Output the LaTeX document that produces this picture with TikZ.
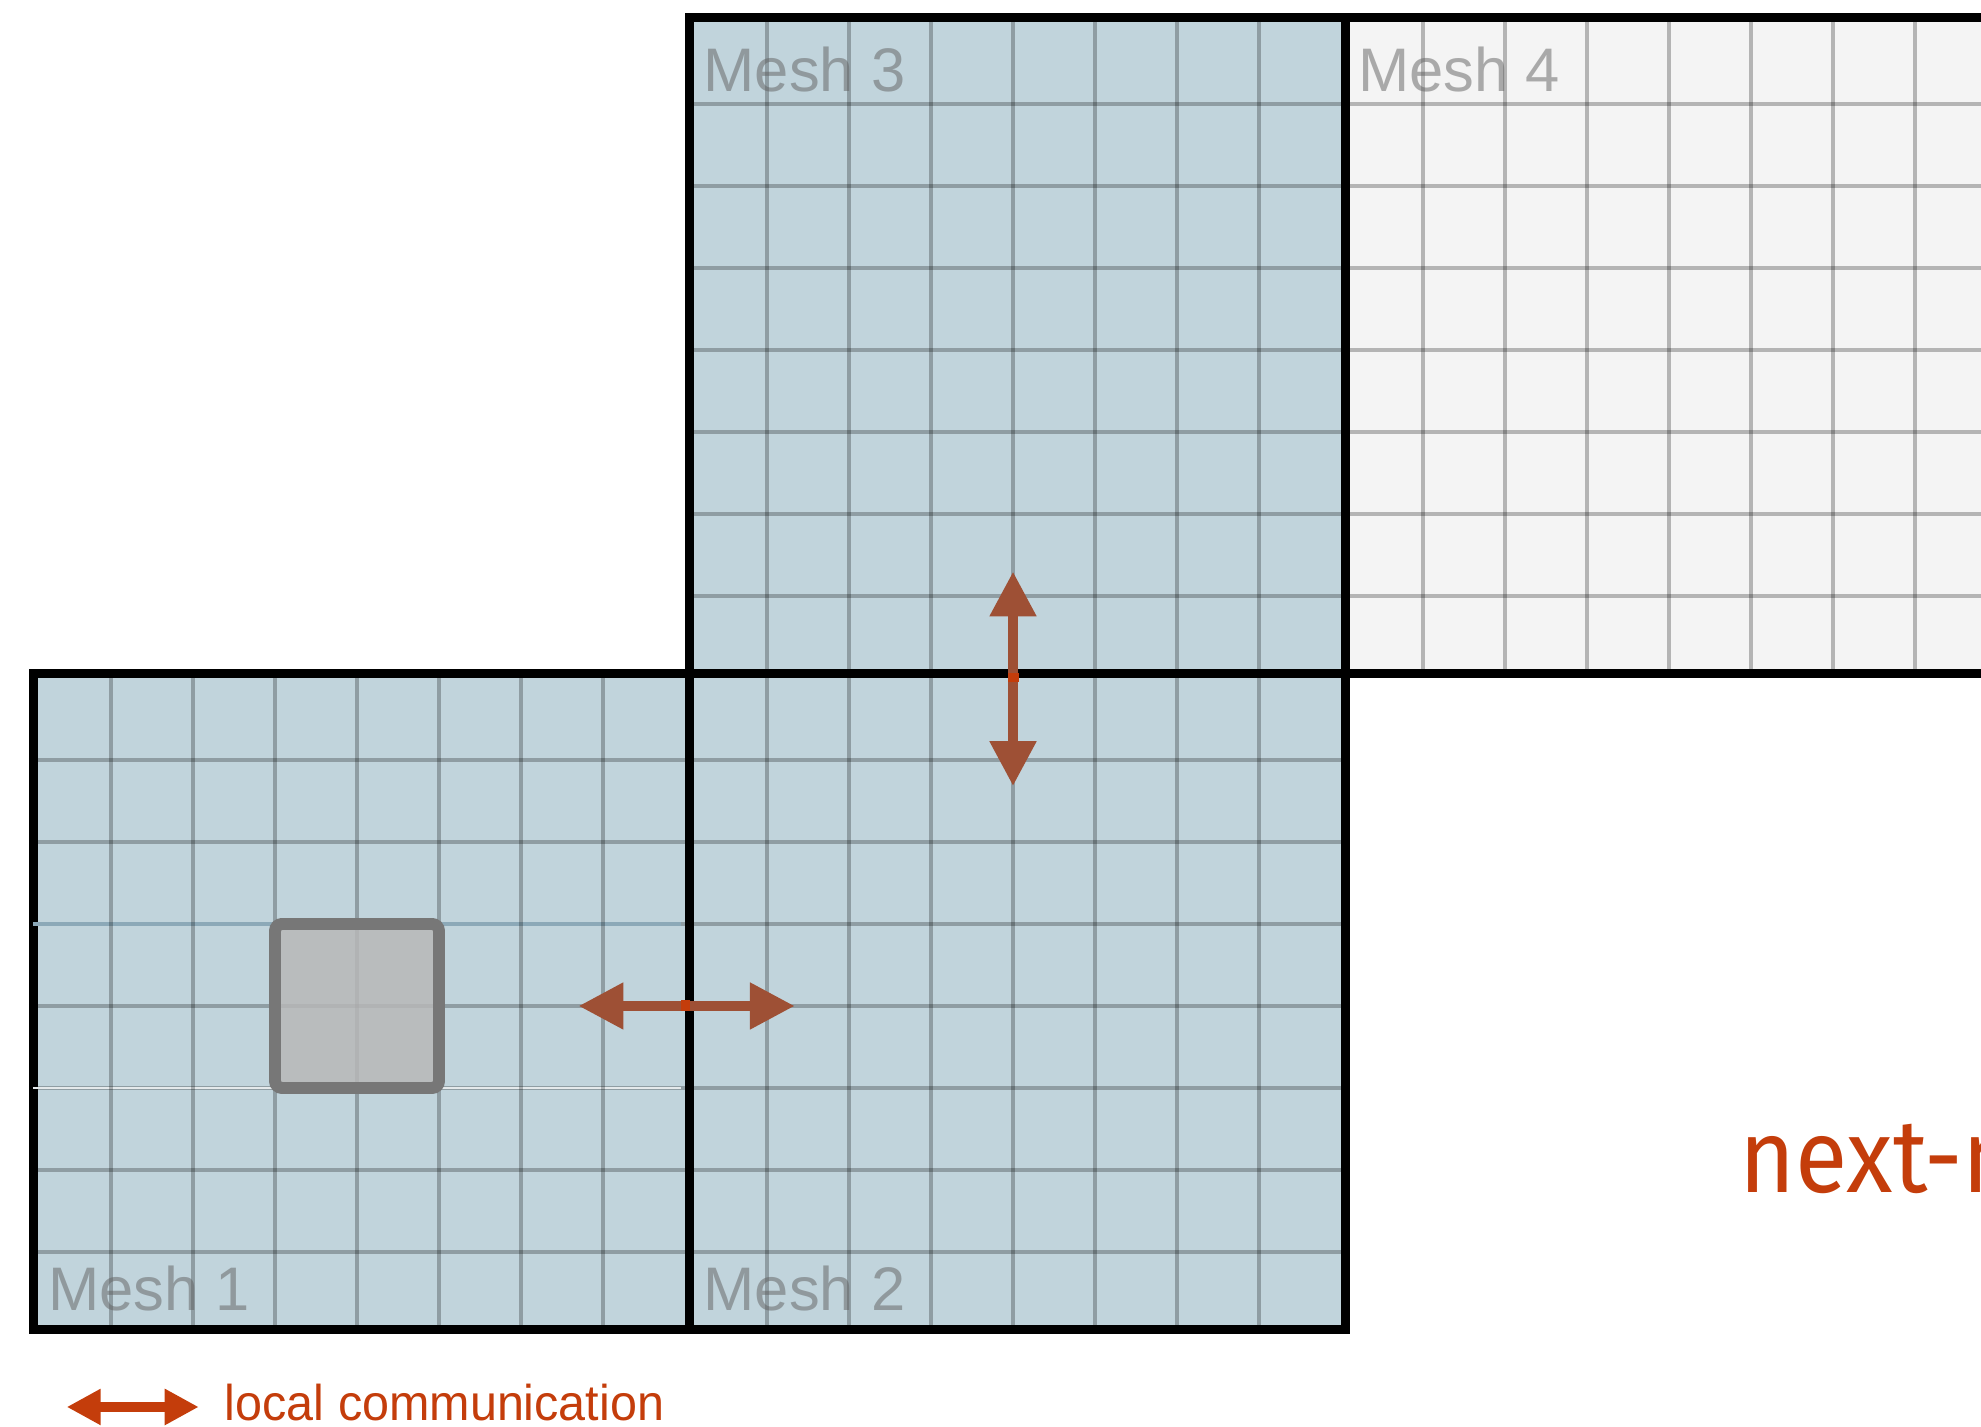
\documentclass[tikz,border=0pt]{standalone}
\usepackage{fontspec}
\setmainfont{Liberation Sans}
\newfontfamily\legendfont{Liberation Sans}[FakeStretch=0.965]
\newfontfamily\nextfont{Fira Sans}[FakeStretch=0.92]
\usepackage{tikz}
\usetikzlibrary{arrows.meta}
\definecolor{meshBlue}{HTML}{C1D4DC}
\definecolor{meshGrey}{HTML}{F4F4F4}
\definecolor{meshText}{HTML}{606060}
\definecolor{cellGrey}{HTML}{B8B8B8}
\definecolor{cellEdge}{HTML}{777777}
\definecolor{commBrown}{HTML}{9E5035}
\definecolor{commOrange}{HTML}{C43D0B}
\definecolor{rowBlue}{HTML}{8CA9B8}
\definecolor{rowPale}{HTML}{E4E9EB}

\begin{document}
\begin{tikzpicture}[x=0.82cm, y=0.82cm,
  mesh/.style={draw=black, line width=2.6pt, minimum size=6.56cm, inner sep=0pt, anchor=south west},
  gridln/.style={draw=black, draw opacity=0.26, line width=1.1pt},
  meshlabel/.style={anchor=base west, inner sep=0pt, text=meshText, text opacity=0.5,
                    font=\fontsize{17.5}{20}\selectfont},
  cellbox/.style={minimum size=1.64cm, inner sep=0pt, fill=cellGrey, fill opacity=0.85,
                  draw=cellEdge, draw opacity=1, line width=3.4pt, rounded corners=2pt},
  comm/.style={{Triangle[length=0.45cm, width=0.44cm]}-{Triangle[length=0.45cm, width=0.44cm]},
               line width=3.1pt, color=commBrown},
  legendarr/.style={{Triangle[length=0.34cm, width=0.34cm]}-{Triangle[length=0.34cm, width=0.34cm]},
                    line width=2.6pt, color=commOrange}
]
\useasboundingbox (-0.29cm,-0.93cm) rectangle (19.52cm,13.34cm);

\foreach \n/\px/\py/\col in {1/0/0/meshBlue, 2/8/0/meshBlue, 3/8/8/meshBlue, 4/16/8/meshGrey}
  \node[mesh, fill=\col] (m\n) at (\px,\py) {};

\foreach \px/\py in {0/0, 8/0, 8/8, 16/8}
  \foreach \k in {1,...,7}
    \draw[gridln] (\px,\py+\k) -- ++(8,0);
\draw[line width=1.1pt, color=rowBlue] (0.05,5) -- (7.95,5);
\draw[line width=0.8pt, color=rowPale] (0.05,3) -- (7.95,3);
\foreach \px/\py in {0/0, 8/0, 8/8, 16/8}
  \foreach \k in {1,...,7}
    \draw[gridln] (\px+\k,\py) -- ++(0,8);

\node[cellbox] (cell) at (4,4) {};

\node[meshlabel] (lab1) at (0.23,0.29) {Mesh 1};
\node[meshlabel] (lab2) at (8.22,0.29) {Mesh 2};
\node[meshlabel] (lab3) at (8.22,15.15) {Mesh 3};
\node[meshlabel] (lab4) at (16.2,15.15) {Mesh 4};

\coordinate (h1) at (6.7,4);
\coordinate (h2) at (9.34,4);
\coordinate (v1) at (12,6.68);
\coordinate (v2) at (12,9.3);
\draw[comm] (h1) -- (h2);
\draw[comm] (v1) -- (v2);
\fill[commOrange] (7.945,3.933) rectangle (8.055,4.067);
\fill[commOrange] (11.933,7.945) rectangle (12.067,8.055);

\coordinate (lg1) at (0.46,-0.89);
\coordinate (lg2) at (2.07,-0.89);
\draw[legendarr] (lg1) -- (lg2);
\node[anchor=base west, inner sep=0pt, text=commOrange, font=\legendfont\fontsize{14.3}{17}\selectfont]
  (lgtext) at (2.38,-1.05) {local communication};

\node[anchor=base west, inner sep=0pt, text=commOrange, font=\nextfont\fontsize{29.6}{34}\selectfont]
  (nexttxt) at (20.85,1.73) {next-n};
\end{tikzpicture}
\end{document}
